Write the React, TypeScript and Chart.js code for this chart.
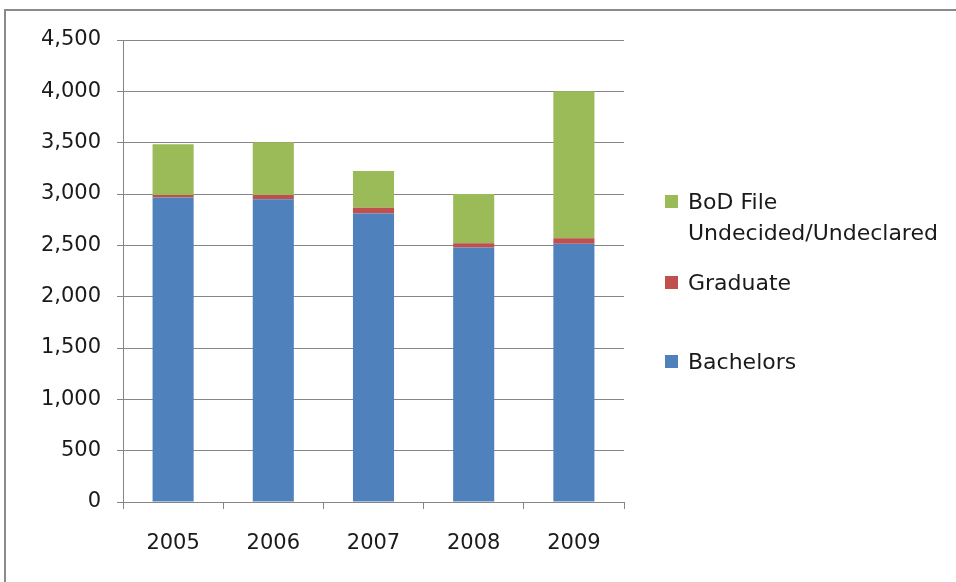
import React, { useEffect, useRef } from "react";
import { Chart, registerables } from "chart.js";

Chart.register(...registerables);

const years = ["2005", "2006", "2007", "2008", "2009"];
const bachelors = [2965, 2950, 2810, 2480, 2515];
const graduate = [25, 40, 55, 40, 55];
const bodFile = [495, 515, 360, 480, 1430];
const yTicks = [0, 500, 1000, 1500, 2000, 2500, 3000, 3500, 4000, 4500];

const seriesNames = ["Bachelors", "Graduate", "BoD File Undecided/Undeclared"];
const seriesColors = ["#4F81BD", "#C0504D", "#9BBB59"];

const FONT = "'DejaVu Sans', sans-serif";
const FONT_SIZE = 21;

export default function App() {
  const ref = useRef<HTMLCanvasElement | null>(null);

  useEffect(() => {
    if (!ref.current) return;
    const chart = new Chart(ref.current, {
      type: "bar",
      data: {
        labels: years,
        datasets: [
          { label: seriesNames[0], data: bachelors, backgroundColor: seriesColors[0] },
          { label: seriesNames[1], data: graduate, backgroundColor: seriesColors[1] },
          { label: seriesNames[2], data: bodFile, backgroundColor: seriesColors[2] },
        ],
      },
      options: {
        responsive: false,
        animation: false,
        layout: { padding: { left: 0, top: 40, right: 332, bottom: 0 } },
        plugins: { legend: { display: false }, tooltip: { enabled: false } },
        datasets: { bar: { barPercentage: 0.41, categoryPercentage: 1 } },
        scales: {
          x: {
            stacked: true,
            grid: {
              display: true,
              offset: true,
              drawOnChartArea: false,
              drawTicks: true,
              tickLength: 7,
              color: "#868686",
            },
            border: { display: true, color: "#868686", width: 1 },
            ticks: {
              color: "#1a1a1a",
              font: { family: FONT, size: FONT_SIZE },
              padding: 22,
            },
            afterFit: (axis: any) => {
              axis.height = 80;
            },
          },
          y: {
            stacked: true,
            min: 0,
            max: 4500,
            afterBuildTicks: (axis: any) => {
              axis.ticks = yTicks.map((v) => ({ value: v }));
            },
            grid: {
              color: "#868686",
              tickLength: 6,
              drawTicks: true,
            },
            border: { display: true, color: "#868686", width: 1 },
            ticks: {
              color: "#1a1a1a",
              font: { family: FONT, size: FONT_SIZE },
              padding: 16,
              callback: (v: any) => Number(v).toLocaleString("en-US"),
            },
            afterFit: (axis: any) => {
              axis.width = 123;
            },
          },
        },
      },
    });
    return () => chart.destroy();
  }, []);

  const legendItems = [
    { name: seriesNames[2], color: seriesColors[2], top: 186 },
    { name: seriesNames[1], color: seriesColors[1], top: 267 },
    { name: seriesNames[0], color: seriesColors[0], top: 346 },
  ];

  return (
    <div
      style={{
        position: "absolute",
        left: 0,
        top: 0,
        width: 956,
        height: 582,
        background: "#fff",
        overflow: "hidden",
      }}
    >
      <div
        style={{
          position: "absolute",
          left: 4,
          top: 9,
          width: 960,
          height: 580,
          borderTop: "2px solid #8a8a8a",
          borderLeft: "2px solid #8a8a8a",
        }}
      />
      <canvas
        ref={ref}
        width={956}
        height={582}
        style={{ position: "absolute", left: 0, top: 0, width: 956, height: 582 }}
      />
      {legendItems.map((it) => (
        <div
          key={it.name}
          style={{
            position: "absolute",
            left: 665,
            top: it.top,
            width: 290,
            fontFamily: FONT,
            fontSize: 22,
            lineHeight: "31px",
            color: "#1a1a1a",
            whiteSpace: "nowrap",
          }}
        >
          <span
            style={{
              position: "absolute",
              left: 0,
              top: 9,
              width: 13,
              height: 13,
              background: it.color,
            }}
          />
          <div style={{ marginLeft: 23 }}>
            {it.name === seriesNames[2] ? (
              <>
                BoD File
                <br />
                Undecided/Undeclared
              </>
            ) : (
              it.name
            )}
          </div>
        </div>
      ))}
    </div>
  );
}
